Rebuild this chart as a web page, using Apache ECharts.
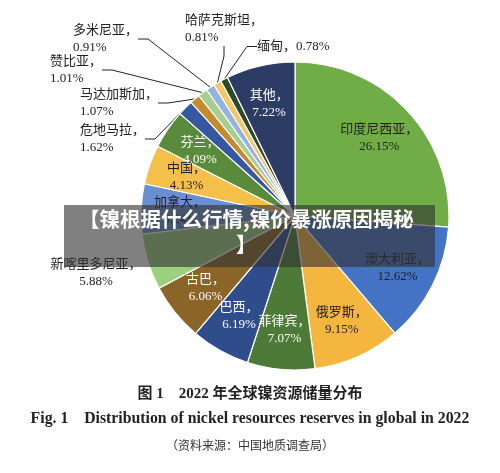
<!DOCTYPE html>
<html><head><meta charset="utf-8">
<script src="https://cdn.jsdelivr.net/npm/echarts@6/dist/echarts.min.js"></script>
<style>html,body{margin:0;padding:0;background:#fff}#main{width:500px;height:473px}</style>
</head><body><div id="main"></div>
<script>
var chartDom = document.getElementById('main');
var myChart = echarts.init(chartDom);

var countries = ['印度尼西亚', '澳大利亚', '俄罗斯', '菲律宾', '巴西', '古巴', '新喀里多尼亚', '加拿大', '中国', '芬兰', '危地马拉', '马达加斯加', '赞比亚', '多米尼亚', '哈萨克斯坦', '缅甸', '其他'];
var shares = [26.15, 12.62, 9.15, 7.07, 6.19, 6.06, 5.88, 5.24, 4.13, 4.09, 1.62, 1.07, 1.01, 0.91, 0.81, 0.78, 7.22];
var colors = ['#70ad47', '#4472c4', '#f4b63f', '#4e7a37', '#2f4d8a', '#8b6528', '#9dd07e', '#6a8fd0', '#f5c04a', '#5a8a3c', '#3558a0', '#c48a2c', '#a5cf8e', '#95b3e0', '#f5c56a', '#2e4a25', '#2c3c64'];
var whiteText = ['菲律宾', '巴西', '古巴', '其他', '芬兰'];
// 外侧标签位置 [x, y, 对齐, 引线]
var outsidePos = {
    '新喀里多尼亚': [96, 256, 'center', false],
    '危地马拉': [80, 122, 'left', true],
    '马达加斯加': [80, 86, 'left', true],
    '赞比亚': [50, 53, 'left', true],
    '多米尼亚': [73, 22, 'left', true],
    '哈萨克斯坦': [185, 12, 'left', true],
    '缅甸': [257, 38, 'left', true]
};

var font = '"Liberation Serif", "Noto Sans CJK SC", serif';
var fmt = p => p.name + (p.name === '缅甸' ? '，' : '，\n') + p.value.toFixed(2) + '%';

// 主饼图：扇区 + 外侧标签
var mainData = countries.map(function (c, i) {
    var pos = outsidePos[c];
    return {
        name: c,
        value: shares[i],
        itemStyle: { color: colors[i] },
        label: { show: !!pos },
        labelLine: { show: !!(pos && pos[3]) }
    };
});
// 透明环：内侧标签（放在较外的半径上）
var innerData = countries.map(function (c, i) {
    return {
        name: c,
        value: shares[i],
        label: { show: !outsidePos[c], color: whiteText.indexOf(c) >= 0 ? '#fff' : '#222' }
    };
});

var option = {
    animation: false,
    graphic: [
        { type: 'text', left: 'center', top: 387, style: { text: '图 1　2022 年全球镍资源储量分布', font: 'bold 15px ' + font, fill: '#222' } },
        { type: 'text', left: 'center', top: 411, style: { text: 'Fig. 1    Distribution of nickel resources reserves in global in 2022', font: 'bold 15.8px ' + font, fill: '#222' } },
        { type: 'text', left: 'center', top: 441, style: { text: '（资料来源：中国地质调查局）', font: '12px ' + font, fill: '#333' } },
        { type: 'rect', shape: { x: 64, y: 205, width: 371, height: 62 }, style: { fill: 'rgba(50,50,50,0.62)' }, z: 100 },
        { type: 'text', x: 79, y: 209, z: 101, style: { text: '【镍根据什么行情,镍价暴涨原因揭秘', font: 'bold 20.5px "Noto Sans CJK SC", sans-serif', fill: '#fff' } },
        { type: 'text', x: 236, y: 234, z: 101, style: { text: '】', font: 'bold 20.5px "Noto Sans CJK SC", sans-serif', fill: '#fff' } }
    ],
    series: [
        {
            type: 'pie',
            center: [295, 216],
            radius: [0, 154],
            startAngle: 90,
            data: mainData,
            itemStyle: { borderColor: '#fff', borderWidth: 1.2 },
            label: {
                position: 'outside',
                formatter: fmt,
                fontFamily: font,
                fontSize: 13,
                lineHeight: 17,
                color: '#222'
            },
            labelLine: { lineStyle: { color: '#222', width: 1 }, length: 10, length2: 10 },
            labelLayout: function (p) {
                var pos = outsidePos[countries[p.dataIndex]];
                if (!pos) return {};
                return { x: pos[0], y: pos[1], align: pos[2], verticalAlign: 'top' };
            }
        },
        {
            type: 'pie',
            center: [295, 216],
            radius: [70, 154],
            startAngle: 90,
            silent: true,
            avoidLabelOverlap: false,
            data: innerData,
            itemStyle: { color: 'transparent' },
            label: {
                position: 'inside',
                formatter: fmt,
                fontFamily: font,
                fontSize: 13,
                lineHeight: 17
            },
            labelLine: { show: false },
            labelLayout: { hideOverlap: false }
        }
    ]
};

option && myChart.setOption(option);
</script></body></html>
